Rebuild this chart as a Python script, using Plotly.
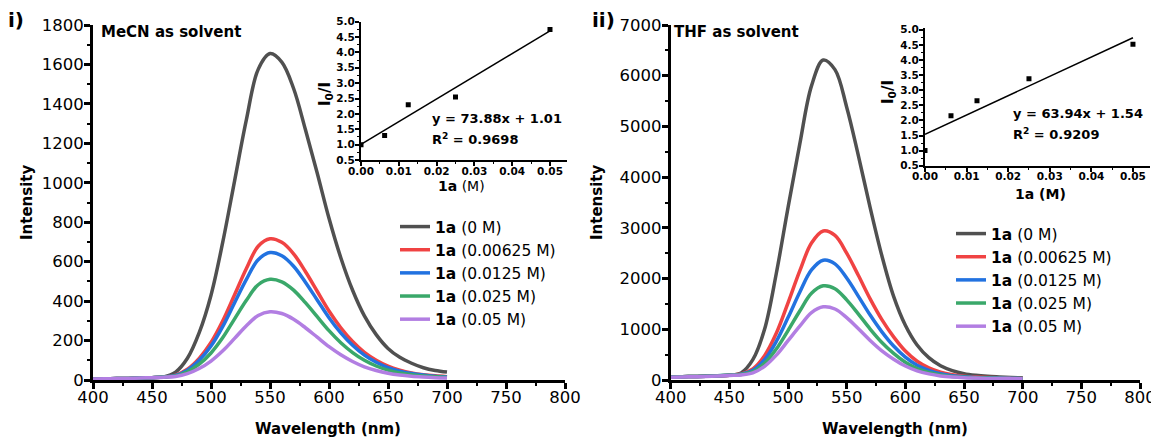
import plotly.graph_objects as go

# ---------------- data ----------------
wavelength = [400, 410, 420, 430, 440, 450, 460, 470, 480, 490, 500, 510, 520, 530, 540, 550,
              560, 570, 580, 590, 600, 610, 620, 630, 640, 650, 660, 670, 680, 690, 700]

series_labels = ["<b>1a</b> (0 M)", "<b>1a</b> (0.00625 M)", "<b>1a</b> (0.0125 M)",
                 "<b>1a</b> (0.025 M)", "<b>1a</b> (0.05 M)"]
series_colors = ["#505050", "#f04343", "#2272e0", "#3aa86a", "#b27ee2"]

# MeCN spectra
mecn_0 = [5, 6, 7, 8, 10, 12, 16, 40, 110, 240, 430, 700, 1010, 1320, 1575, 1655,
          1612, 1478, 1270, 1050, 820, 620, 455, 325, 230, 160, 115, 85, 62, 48, 40]
mecn_1 = [5, 6, 7, 8, 10, 12, 15, 25, 55, 110, 190, 300, 432, 565, 678, 716,
          698, 640, 550, 450, 350, 265, 195, 140, 100, 70, 50, 36, 27, 21, 17]
mecn_2 = [5, 6, 7, 8, 10, 12, 15, 23, 50, 100, 172, 272, 392, 510, 610, 646,
          630, 577, 496, 406, 316, 239, 176, 126, 90, 63, 45, 33, 25, 19, 15]
mecn_3 = [5, 6, 7, 8, 10, 12, 15, 21, 42, 80, 137, 215, 310, 404, 483, 511,
          498, 456, 392, 321, 250, 189, 139, 100, 71, 50, 36, 27, 20, 16, 13]
mecn_4 = [5, 6, 7, 8, 10, 12, 14, 18, 32, 58, 96, 148, 211, 275, 327, 346,
          337, 308, 265, 217, 169, 128, 94, 67, 48, 34, 25, 19, 15, 12, 10]

# THF spectra
thf_0 = [60, 65, 70, 75, 82, 95, 140, 400, 1000, 2100, 3400, 4650, 5800, 6310, 6120, 5380,
         4420, 3400, 2450, 1650, 1080, 690, 440, 280, 185, 125, 92, 72, 60, 50, 42]
thf_1 = [60, 65, 70, 75, 82, 95, 120, 220, 480, 920, 1520, 2150, 2700, 2938, 2850, 2500,
         2060, 1600, 1190, 850, 570, 370, 240, 155, 105, 75, 58, 48, 42, 38, 35]
thf_2 = [60, 65, 70, 75, 82, 95, 115, 190, 400, 760, 1230, 1730, 2170, 2362, 2290, 2010,
         1650, 1280, 950, 670, 450, 290, 190, 125, 85, 62, 50, 42, 37, 34, 31]
thf_3 = [60, 65, 70, 75, 82, 95, 110, 165, 330, 610, 975, 1360, 1710, 1857, 1800, 1580,
         1300, 1005, 740, 525, 350, 225, 150, 100, 70, 52, 43, 37, 33, 30, 28]
thf_4 = [55, 60, 65, 70, 78, 90, 100, 140, 270, 490, 775, 1060, 1330, 1443, 1400, 1230,
         1010, 780, 575, 410, 275, 180, 120, 80, 57, 44, 37, 32, 29, 27, 25]

# Stern-Volmer insets
conc = [0.0, 0.00625, 0.0125, 0.025, 0.05]
mecn_i0_i = [1.0, 1.3, 2.3, 2.55, 4.75]
thf_i0_i = [1.0, 2.15, 2.65, 3.38, 4.52]
fit_x = [0.0, 0.05]
mecn_fit_y = [1.01, 73.88 * 0.05 + 1.01]
thf_fit_y = [1.54, 63.94 * 0.05 + 1.54]

x_ticks_main = [400, 450, 500, 550, 600, 650, 700, 750, 800]

# ---------------- figure ----------------
W, H = 1159, 440
OFF = 8  # page body margin
FONT = "DejaVu Sans, Liberation Sans, Arial, sans-serif"

def px_x(p):
    return (p - OFF) / W

def px_y(p):
    return 1 - (p - OFF) / H

fig = go.Figure()

mecn = [mecn_0, mecn_1, mecn_2, mecn_3, mecn_4]
thf = [thf_0, thf_1, thf_2, thf_3, thf_4]

for lab, col, ys in zip(series_labels, series_colors, mecn):
    fig.add_trace(go.Scatter(x=wavelength, y=ys, mode="lines", name=lab,
                             line=dict(color=col, width=3.5, shape="spline", smoothing=1.0),
                             xaxis="x", yaxis="y", legend="legend"))

fig.add_trace(go.Scatter(x=fit_x, y=mecn_fit_y, mode="lines", line=dict(color="black", width=1.5),
                         xaxis="x2", yaxis="y2", showlegend=False))
fig.add_trace(go.Scatter(x=conc, y=mecn_i0_i, mode="markers",
                         marker=dict(symbol="square", size=5, color="black"),
                         xaxis="x2", yaxis="y2", showlegend=False))

for lab, col, ys in zip(series_labels, series_colors, thf):
    fig.add_trace(go.Scatter(x=wavelength, y=ys, mode="lines", name=lab,
                             line=dict(color=col, width=3.5, shape="spline", smoothing=1.0),
                             xaxis="x3", yaxis="y3", legend="legend2"))

fig.add_trace(go.Scatter(x=fit_x, y=thf_fit_y, mode="lines", line=dict(color="black", width=1.5),
                         xaxis="x4", yaxis="y4", showlegend=False))
fig.add_trace(go.Scatter(x=conc, y=thf_i0_i, mode="markers",
                         marker=dict(symbol="square", size=5, color="black"),
                         xaxis="x4", yaxis="y4", showlegend=False))

main_tickfont = dict(family=FONT, size=16.5, color="black")
inset_tickfont = dict(family=FONT, size=10.5, color="black", weight="bold")

def main_x(domain, anchor):
    return dict(domain=domain, anchor=anchor, range=[400, 800], tickvals=x_ticks_main,
                showline=True, linecolor="black", linewidth=3, ticks="outside", ticklen=6,
                tickwidth=2.5, tickcolor="black", tickfont=main_tickfont, showgrid=False,
                zeroline=False, automargin=False, ticklabelstandoff=-6,
                minor=dict(dtick=25, ticks="outside", ticklen=3, tickwidth=2,
                           tickcolor="black", showgrid=False))

def main_y(domain, anchor, rng, dtick, minor):
    return dict(domain=domain, anchor=anchor, range=rng, dtick=dtick, tick0=0,
                showline=True, linecolor="black", linewidth=3, ticks="outside", ticklen=6,
                tickwidth=2.5, tickcolor="black", tickfont=main_tickfont, showgrid=False,
                zeroline=False, automargin=False, ticklabelstandoff=-3,
                minor=dict(dtick=minor, ticks="outside", ticklen=3, tickwidth=2,
                           tickcolor="black", showgrid=False))

def inset_x(domain, anchor, rng):
    return dict(domain=domain, anchor=anchor, range=rng, dtick=0.01, tick0=0, tickformat=".2f",
                showline=True, linecolor="black", linewidth=2, ticks="outside", ticklen=4,
                tickwidth=1.5, tickcolor="black", tickfont=inset_tickfont, showgrid=False,
                zeroline=False, automargin=False, ticklabelstandoff=-4,
                minor=dict(dtick=0.005, ticks="outside", ticklen=2, tickwidth=1,
                           tickcolor="black", showgrid=False))

def inset_y(domain, anchor, rng):
    return dict(domain=domain, anchor=anchor, range=rng, dtick=0.5, tick0=0.5, tickformat=".1f",
                showline=True, linecolor="black", linewidth=2, ticks="outside", ticklen=4,
                tickwidth=1.5, tickcolor="black", tickfont=inset_tickfont, showgrid=False,
                zeroline=False, automargin=False, ticklabelstandoff=-2,
                minor=dict(dtick=0.25, ticks="outside", ticklen=2, tickwidth=1,
                           tickcolor="black", showgrid=False))

legend_common = dict(font=dict(family=FONT, size=15.5, color="black"), bgcolor="rgba(0,0,0,0)",
                     itemwidth=30, tracegroupgap=0, xanchor="left", yanchor="top")

fig.update_layout(
    width=W, height=H, margin=dict(l=0, r=0, t=0, b=0, autoexpand=False),
    paper_bgcolor="white", plot_bgcolor="rgba(0,0,0,0)",
    font=dict(family=FONT, color="black"),
    xaxis=main_x([px_x(93), px_x(565)], "y"),
    yaxis=main_y([px_y(380), px_y(25)], "x", [0, 1800], 200, 100),
    xaxis2=inset_x([px_x(361), px_x(567)], "y2", [0, 0.0545]),
    yaxis2=inset_y([px_y(160), px_y(21.7)], "x2", [0.5, 5.0]),
    xaxis3=main_x([px_x(670.7), px_x(1140)], "y3"),
    yaxis3=main_y([px_y(380), px_y(25)], "x3", [0, 7000], 1000, 500),
    xaxis4=inset_x([px_x(925), px_x(1150)], "y4", [0, 0.0541]),
    yaxis4=inset_y([px_y(165.7), px_y(28.3)], "x4", [0.5, 5.05]),
    legend=dict(x=px_x(395), y=px_y(210), **legend_common),
    legend2=dict(x=px_x(951), y=px_y(217), **legend_common),
    showlegend=True,
)

def ann(text, x, y, size, xanchor="center", yanchor="middle", angle=0, bold=False):
    fig.add_annotation(text=text, x=px_x(x), y=px_y(y), xref="paper", yref="paper",
                       showarrow=False, xanchor=xanchor, yanchor=yanchor, textangle=angle,
                       font=dict(family=FONT, size=size, color="black",
                                 weight="bold" if bold else "normal"))

# panel labels and titles
ann("i)", 6, 20, 20, xanchor="left", bold=True)
ann("ii)", 590, 20, 20, xanchor="left", bold=True)
ann("MeCN as solvent", 99, 32, 15, xanchor="left", bold=True)
ann("THF as solvent", 672, 32, 15, xanchor="left", bold=True)

# main axis titles
ann("Intensity", 27, 202, 15, angle=-90, bold=True)
ann("Intensity", 597, 202, 15, angle=-90, bold=True)
ann("Wavelength (nm)", 328, 429, 15, bold=True)
ann("Wavelength (nm)", 895, 429, 15, bold=True)

# inset titles and equations
ann("I<sub>0</sub>/I", 326, 94, 15, angle=-90, bold=True)
ann("I<sub>0</sub>/I", 888, 92, 15, angle=-90, bold=True)
ann("<b>1a</b> (M)", 461, 186, 14)
ann("1a (M)", 1040, 194, 14, bold=True)
ann("y = 73.88x + 1.01", 430, 118, 13, xanchor="left", bold=True)
ann("R<sup>2</sup> = 0.9698", 430, 139, 13, xanchor="left", bold=True)
ann("y = 63.94x + 1.54", 1011, 113, 13, xanchor="left", bold=True)
ann("R<sup>2</sup> = 0.9209", 1011, 134, 13, xanchor="left", bold=True)

fig.write_html("out.html")
